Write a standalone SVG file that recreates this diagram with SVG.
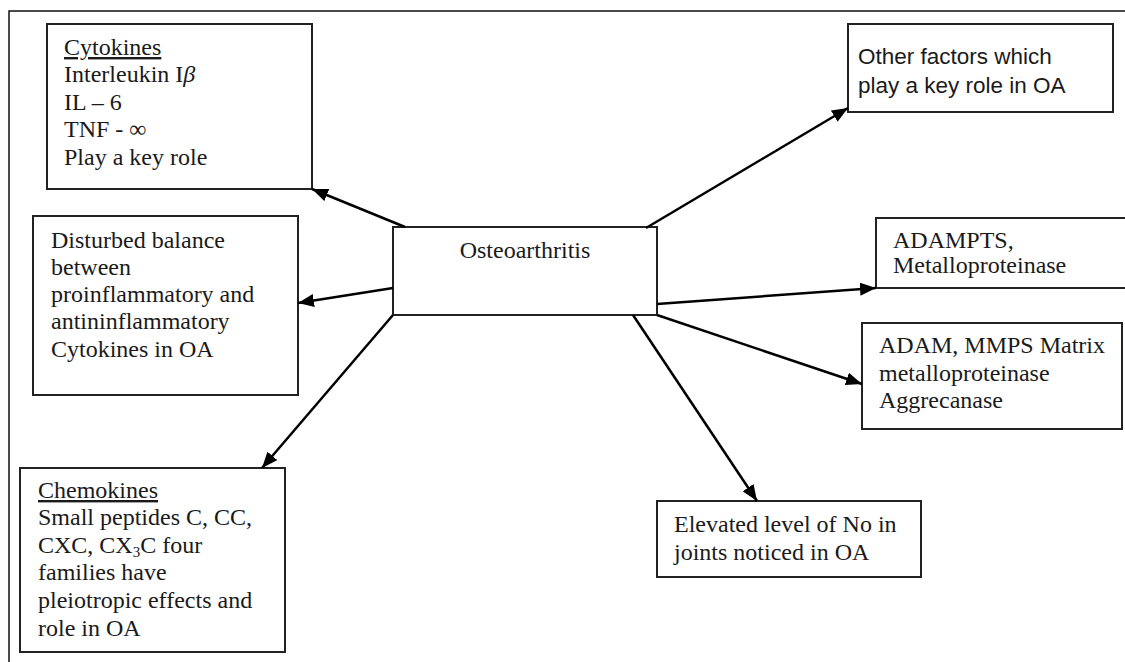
<svg xmlns="http://www.w3.org/2000/svg" width="1125" height="662" viewBox="0 0 1125 662">
<defs>
<style>
.box{fill:#fff;stroke:#222;stroke-width:2}
.t{font-family:"Liberation Serif","Times New Roman",serif;font-size:24px;fill:#1a1a1a}
.s{font-family:"Liberation Sans",Arial,sans-serif;font-size:22.5px;fill:#1a1a1a}
.c{fill:none;stroke:#000;stroke-width:2.5;marker-end:url(#ah)}
.frame{fill:none;stroke:#111;stroke-width:1.5}
</style>
<marker id="ah" markerUnits="userSpaceOnUse" markerWidth="17" markerHeight="13" refX="16" refY="6.5" orient="auto">
<path d="M0,0 L16,6.5 L0,13 z" fill="#000"/>
</marker>
</defs>
<rect width="1125" height="662" fill="#fff"/>
<path class="frame" d="M9,662 L9,11 L1125,11"/>

<g id="osteoarthritis">
<rect class="box" x="393" y="227" width="264" height="88"/>
<text class="t" x="525" y="258" text-anchor="middle">Osteoarthritis</text>
</g>

<g id="cytokines">
<rect class="box" x="47" y="24" width="265" height="165"/>
<text class="t" x="64" y="55" text-decoration="underline">Cytokines</text>
<text class="t" x="64" y="82">Interleukin I<tspan font-style="italic">β</tspan></text>
<text class="t" x="64" y="110">IL – 6</text>
<text class="t" x="64" y="137">TNF - ∞</text>
<text class="t" x="64" y="165">Play a key role</text>
</g>

<g id="disturbed">
<rect class="box" x="33" y="216" width="265" height="179"/>
<text class="t" x="51" y="248">Disturbed balance</text>
<text class="t" x="51" y="275">between</text>
<text class="t" x="51" y="302">proinflammatory and</text>
<text class="t" x="51" y="329">antininflammatory</text>
<text class="t" x="51" y="357">Cytokines in OA</text>
</g>

<g id="chemokines">
<rect class="box" x="20" y="468" width="265" height="184"/>
<text class="t" x="38" y="498" text-decoration="underline">Chemokines</text>
<text class="t" x="38" y="525">Small peptides C, CC,</text>
<text class="t" x="38" y="553">CXC, CX<tspan font-size="15" dy="4">3</tspan><tspan dy="-4">C four</tspan></text>
<text class="t" x="38" y="580">families have</text>
<text class="t" x="38" y="608">pleiotropic effects and</text>
<text class="t" x="38" y="636">role in OA</text>
</g>

<g id="other-factors">
<rect class="box" x="848" y="24" width="265" height="88"/>
<text class="s" x="858" y="64">Other factors which</text>
<text class="s" x="858" y="93">play a key role in OA</text>
</g>

<g id="adampts">
<rect class="box" x="876" y="218" width="260" height="70"/>
<text class="t" x="893" y="248">ADAMPTS,</text>
<text class="t" x="893" y="273">Metalloproteinase</text>
</g>

<g id="adam">
<rect class="box" x="862" y="323" width="260" height="106"/>
<text class="t" x="879" y="353">ADAM, MMPS Matrix</text>
<text class="t" x="879" y="381">metalloproteinase</text>
<text class="t" x="879" y="408">Aggrecanase</text>
</g>

<g id="elevated-no">
<rect class="box" x="657" y="501" width="264" height="76"/>
<text class="t" x="674" y="532">Elevated level of No in</text>
<text class="t" x="674" y="560">joints noticed in OA</text>
</g>

<g id="connectors">
<line class="c" x1="405" y1="227" x2="312" y2="189"/>
<line class="c" x1="393" y1="288" x2="298" y2="303"/>
<line class="c" x1="393" y1="315" x2="262" y2="468"/>
<line class="c" x1="646" y1="228" x2="848" y2="108"/>
<line class="c" x1="657" y1="304" x2="876" y2="288"/>
<line class="c" x1="657" y1="315" x2="862" y2="384"/>
<line class="c" x1="633" y1="315" x2="757" y2="501"/>
</g>
</svg>
